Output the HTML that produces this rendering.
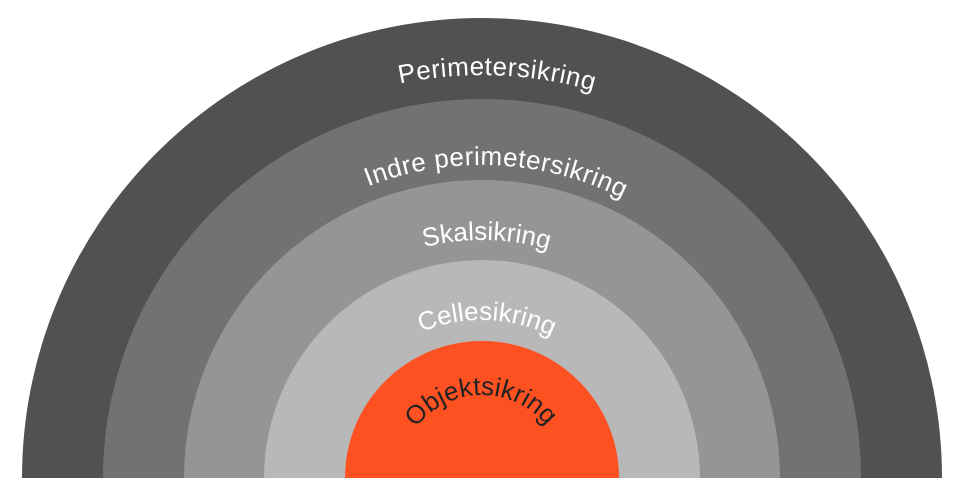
<!DOCTYPE html>
<html><head><style>html,body{margin:0;padding:0;background:#fff}svg{display:block}</style></head>
<body>
<svg width="960" height="497" viewBox="0 0 960 497" xmlns="http://www.w3.org/2000/svg">
<defs>
<path id="p1" d="M79,478 A403,403 0 0 1 885,478"/>
<path id="p2" d="M169,478 A313,313 0 0 1 795,478"/>
<path id="p3" d="M244,478 A238,238 0 0 1 720,478"/>
<path id="p4" d="M324,478 A158,158 0 0 1 640,478"/>
<path id="p5" d="M399,478 A83,83 0 0 1 565,478"/>
</defs>
<path d="M22,478 A460,460 0 0 1 942,478 Z" fill="#515151"/>
<path d="M103,478 A379,379 0 0 1 861,478 Z" fill="#727272"/>
<path d="M184,478 A298,298 0 0 1 780,478 Z" fill="#959595"/>
<path d="M264,478 A218,218 0 0 1 700,478 Z" fill="#b8b8b9"/>
<path d="M345,478 A137,137 0 0 1 619,478 Z" fill="#fe5122"/>
<g font-family="Liberation Sans, sans-serif" font-size="26" text-anchor="middle">
<text fill="#fff" letter-spacing="0.5"><textPath href="#p1" startOffset="51.2%">Perimetersikring</textPath></text>
<text fill="#fff" letter-spacing="0.5"><textPath href="#p2" startOffset="51.5%">Indre perimetersikring</textPath></text>
<text fill="#fff"><textPath href="#p3" startOffset="50.6%">Skalsikring</textPath></text>
<text fill="#fff"><textPath href="#p4" startOffset="51%">Cellesikring</textPath></text>
<text fill="#222"><textPath href="#p5" startOffset="49.5%">Objektsikring</textPath></text>
</g>
</svg>
</body></html>
